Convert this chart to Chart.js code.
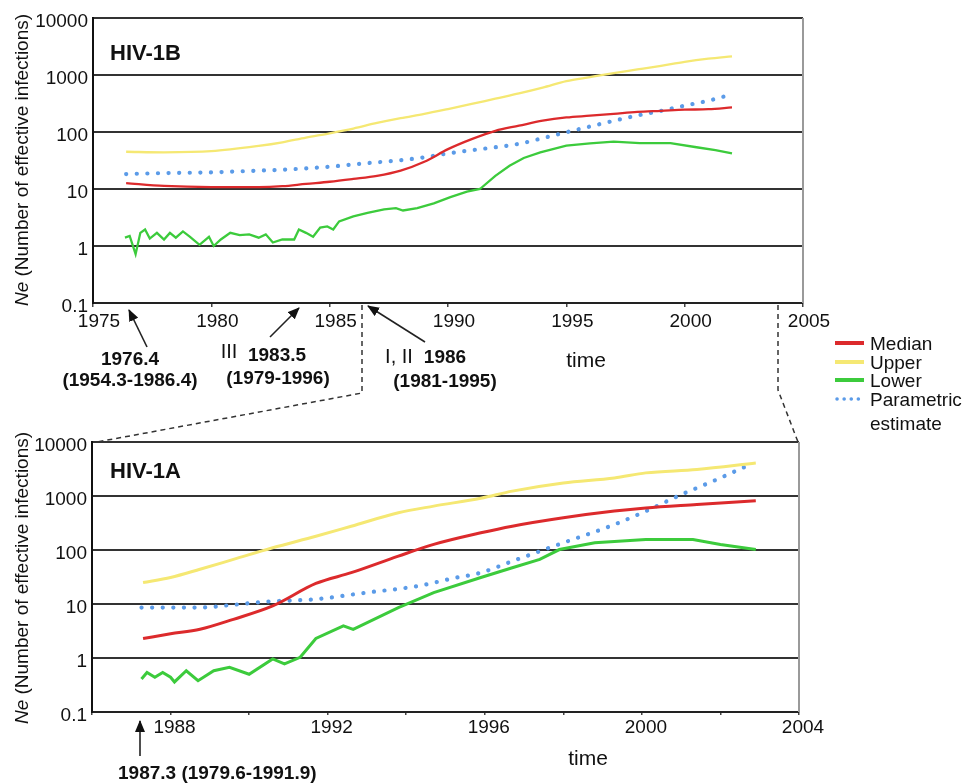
<!DOCTYPE html>
<html><head><meta charset="utf-8">
<script src="https://cdn.jsdelivr.net/npm/chart.js@4.4.1/dist/chart.umd.min.js"></script>
<style>
html,body{margin:0;padding:0;background:#fff;}
#wrap{position:relative;width:964px;height:784px;overflow:hidden;font-family:"Liberation Sans",Arial,sans-serif;color:#111;}
.c{position:absolute;}
.t{position:absolute;white-space:nowrap;line-height:1;}
.cc{transform:translate(-50%,-50%);}
.lc{transform:translate(0,-50%);}
.b{font-weight:bold;}
.ytitle{position:absolute;white-space:nowrap;line-height:1;font-size:19px;transform:translate(-50%,-50%) rotate(-90deg);}
</style></head><body>
<div id="wrap">
  <div class="c" style="left:0;top:0;width:830px;height:330px"><canvas id="topChart" width="830" height="330"></canvas></div>
  <div class="c" style="left:0;top:420px;width:830px;height:320px"><canvas id="botChart" width="830" height="320"></canvas></div>

  <svg class="c" style="left:0;top:0;pointer-events:none" width="964" height="784">
    <defs>
      <marker id="ah" viewBox="0 0 12 10" refX="11" refY="5" markerWidth="12" markerHeight="10" markerUnits="userSpaceOnUse" orient="auto">
        <path d="M0,0 L12,5 L0,10 z" fill="#111"/>
      </marker>
    </defs>
    <g stroke="#222" stroke-width="1.6" fill="none">
      <line x1="147" y1="347" x2="129" y2="310" marker-end="url(#ah)"/>
      <line x1="270" y1="337" x2="299" y2="308" marker-end="url(#ah)"/>
      <line x1="425" y1="342" x2="368" y2="306" marker-end="url(#ah)"/>
      <line x1="140" y1="756" x2="140" y2="721" marker-end="url(#ah)"/>
    </g>
    <g stroke="#333" stroke-width="1.5" stroke-dasharray="5,4" fill="none">
      <polyline points="362,305 362,393 97,442"/>
      <polyline points="778,305 778,390 798,442"/>
    </g>
    <line x1="835" y1="343" x2="864" y2="343" stroke="#dc2a2c" stroke-width="4"/>
    <line x1="835" y1="362" x2="864" y2="362" stroke="#f5e873" stroke-width="4"/>
    <line x1="835" y1="380" x2="864" y2="380" stroke="#3ccb3c" stroke-width="4"/>
    <line x1="837" y1="399" x2="864" y2="399" stroke="#5b9be8" stroke-width="3.5" stroke-dasharray="0.1,7" stroke-linecap="round"/>
  </svg>

  <div class="ytitle" style="left:21px;top:160px"><i>Ne</i> (Number of effective infections)</div>
  <div class="ytitle" style="left:21px;top:578px"><i>Ne</i> (Number of effective infections)</div>

  <div class="t lc b" style="left:110px;top:53px;font-size:22px">HIV-1B</div>
  <div class="t lc b" style="left:110px;top:471px;font-size:22px">HIV-1A</div>

  <div class="t cc b" style="left:130px;top:358px;font-size:19px">1976.4</div>
  <div class="t cc b" style="left:130px;top:379px;font-size:19px">(1954.3-1986.4)</div>
  <div class="t cc" style="left:229px;top:351px;font-size:20px">III</div>
  <div class="t cc b" style="left:277px;top:354px;font-size:19px">1983.5</div>
  <div class="t cc b" style="left:278px;top:377px;font-size:19px">(1979-1996)</div>
  <div class="t cc" style="left:399px;top:356px;font-size:20px">I, II</div>
  <div class="t cc b" style="left:445px;top:356px;font-size:19px">1986</div>
  <div class="t cc b" style="left:445px;top:380px;font-size:19px">(1981-1995)</div>
  <div class="t cc" style="left:586px;top:359px;font-size:21px">time</div>
  <div class="t cc" style="left:588px;top:757px;font-size:21px">time</div>
  <div class="t lc b" style="left:118px;top:772px;font-size:19px">1987.3 (1979.6-1991.9)</div>

  <div class="t lc" style="left:870px;top:343px;font-size:19px">Median</div>
  <div class="t lc" style="left:870px;top:362px;font-size:19px">Upper</div>
  <div class="t lc" style="left:870px;top:380px;font-size:19px">Lower</div>
  <div class="t lc" style="left:870px;top:399px;font-size:19px">Parametric</div>
  <div class="t lc" style="left:870px;top:423px;font-size:19px">estimate</div>
</div>
<script>
// ---------- DATA ----------
const Y_TICKS = [0.1, 1, 10, 100, 1000, 10000];
const TOP_X_TICKS = [1975, 1980, 1985, 1990, 1995, 2000, 2005];
const BOT_X_TICKS = [1986, 1988, 1990, 1992, 1994, 1996, 1998, 2000, 2002, 2004];

// HIV-1B (top panel)
const b_years = [1976.4,1978,1980,1982,1983,1984,1985,1986,1987,1988,1989,1990,1991,1992,1993,1994,1995,1996,1997,1998,1999,2000,2001,2002];
const b_upper = [45,44,46,57,66,80,95,115,144,175,208,253,310,385,475,600,780,920,1080,1250,1450,1700,1930,2130];
const b_median = [12.7,11.3,10.8,10.8,11.2,12.3,13.4,15,17,21,30,50,75,105,129,158,180,193,208,225,235,246,252,270];
const b_param_years = [1976.4,1978,1980,1982,1983,1984,1985,1986,1987,1988,1989,1990,1991,1992,1993,1994,1995,1996,1997,1998,1999,2000,2001,2001.8];
const b_param = [18.3,19,19.6,21,21.8,23,24.6,27,29.4,32,36,42,48,54,62,78,99,125,157,195,235,290,354,435];
const b_lower_years = [1976.35,1976.55,1976.8,1977.0,1977.2,1977.4,1977.7,1978.0,1978.25,1978.5,1978.8,1979.1,1979.5,1979.9,1980.1,1980.4,1980.8,1981.2,1981.6,1982.0,1982.3,1982.6,1983.0,1983.5,1983.7,1984.0,1984.3,1984.6,1984.9,1985.15,1985.4,1986.0,1986.6,1987.3,1987.8,1988.1,1988.7,1989.4,1990.1,1990.8,1991.35,1992.0,1992.6,1993.2,1993.9,1995.0,1996.0,1997.0,1998.1,1999.4,2000.5,2001.3,2002.0];
const b_lower = [1.4,1.5,0.72,1.7,1.95,1.35,1.7,1.3,1.7,1.4,1.8,1.45,1.05,1.45,1.0,1.3,1.7,1.55,1.6,1.4,1.6,1.15,1.3,1.3,1.95,1.7,1.45,2.1,2.2,1.95,2.7,3.3,3.8,4.4,4.6,4.2,4.6,5.6,7.2,9.0,10,17,25.6,35,44,57.5,63,67.6,64,64,54,48,42];

// HIV-1A (bottom panel)
const a_years = [1987.3,1988,1988.75,1989.6,1990.6,1991.7,1992.6,1993.8,1994.7,1995.9,1996.7,1998,1999.3,2000.1,2001.4,2002.9];
const a_upper = [25,31,44,67,110,180,276,490,650,910,1230,1740,2150,2680,3080,4070];
const a_median = [2.3,2.8,3.4,5.2,9.2,24,38,77,127,208,276,395,525,600,695,820];
const a_param_years = [1987.26,1988,1988.75,1989.5,1990.4,1991.7,1993,1994.3,1995.2,1995.9,1996.7,1998,1999.3,2000.1,2001,2001.8,2002.65];
const a_param = [8.6,8.6,8.6,9.5,11,12.3,16.3,21.5,30,38,62,136,296,525,1060,1870,3530];
const a_lower_years = [1987.26,1987.4,1987.6,1987.8,1988.0,1988.1,1988.4,1988.7,1989.1,1989.5,1990.0,1990.6,1990.9,1991.3,1991.7,1992.4,1992.65,1993.8,1994.7,1995.9,1996.7,1997.4,1997.9,1998.8,2000.1,2001.3,2002.0,2002.9];
const a_lower = [0.41,0.54,0.44,0.54,0.44,0.36,0.58,0.38,0.58,0.67,0.5,0.96,0.78,1.03,2.3,3.95,3.4,8.6,16.3,31,47,67,102,136,157,157,127,102];

// ---------- STYLE ----------
const FONT = '"Liberation Sans", Arial, sans-serif';
const C_MED = '#dc2a2c', C_UP = '#f5e873', C_LOW = '#3ccb3c', C_PAR = '#5b9be8';

function ds(xs, ys, color, extra) {
  return Object.assign({
    data: xs.map((x, i) => ({x: x, y: ys[i]})),
    borderColor: color, backgroundColor: color, borderWidth: 2.5,
    pointRadius: 0, fill: false, tension: 0
  }, extra || {});
}
const smoothTop = {cubicInterpolationMode: 'monotone', borderWidth: 2.3};
const smoothBot = {cubicInterpolationMode: 'monotone', borderWidth: 3};
const dotted = {borderDash: [0.1, 10.5], borderCapStyle: 'round', borderWidth: 4.2, cubicInterpolationMode: 'monotone'};

const frame = {
  id: 'frame',
  afterDatasetsDraw(chart) {
    const {ctx, chartArea: a} = chart;
    ctx.save();
    ctx.strokeStyle = '#9a9a9a'; ctx.lineWidth = 2;
    ctx.beginPath(); ctx.moveTo(a.right, a.top); ctx.lineTo(a.right, a.bottom); ctx.stroke();
    ctx.restore();
  }
};

function makeChart(id, cfg) {
  return new Chart(document.getElementById(id), {
    type: 'line',
    data: {datasets: cfg.datasets},
    options: {
      responsive: false, animation: false,
      layout: {padding: {top: cfg.padTop, right: cfg.padRight, left: 0, bottom: 0}},
      plugins: {legend: {display: false}, tooltip: {enabled: false}},
      scales: {
        x: {
          type: 'linear', min: cfg.xmin, max: cfg.xmax,
          afterBuildTicks: s => { s.ticks = cfg.xticks.map(v => ({value: v})); },
          afterFit: s => { s.height = cfg.xh; },
          ticks: {autoSkip: false, maxRotation: 0, color: '#111', font: {family: FONT, size: 19},
                  padding: cfg.xpad, labelOffset: cfg.xoff, callback: cfg.xlab},
          grid: {drawOnChartArea: false, drawTicks: true, tickLength: cfg.tickLen, color: '#444', lineWidth: 1.5},
          border: {display: true, color: '#222', width: 2}
        },
        y: {
          type: 'logarithmic', min: 0.1, max: 10000,
          afterBuildTicks: s => { s.ticks = Y_TICKS.map(v => ({value: v})); },
          afterFit: s => { s.width = cfg.yw; },
          ticks: {color: '#111', font: {family: FONT, size: 19}, padding: 5, labelOffset: 4,
                  callback: v => String(v)},
          grid: {color: '#333', lineWidth: 2, drawTicks: false},
          border: {display: true, color: '#111', width: 2}
        }
      }
    },
    plugins: [frame]
  });
}

makeChart('topChart', {
  datasets: [
    ds(b_years, b_upper, C_UP, smoothTop),
    ds(b_lower_years, b_lower, C_LOW, {borderWidth: 2.3}),
    ds(b_years, b_median, C_MED, smoothTop),
    ds(b_param_years, b_param, C_PAR, dotted)
  ],
  padTop: 18, padRight: 27, yw: 93, xh: 27,
  xmin: 1975, xmax: 2005, xticks: TOP_X_TICKS,
  xpad: 3, xoff: 6, tickLen: 4,
  xlab: v => String(v)
});

makeChart('botChart', {
  datasets: [
    ds(a_years, a_upper, C_UP, smoothBot),
    ds(a_lower_years, a_lower, C_LOW, {borderWidth: 3}),
    ds(a_years, a_median, C_MED, smoothBot),
    ds(a_param_years, a_param, C_PAR, dotted)
  ],
  padTop: 22, padRight: 31, yw: 92, xh: 28,
  xmin: 1986, xmax: 2004, xticks: BOT_X_TICKS,
  xpad: 1, xoff: 4, tickLen: 3,
  xlab: v => (v % 4 === 0 ? String(v) : '')
});
</script>
</body></html>
